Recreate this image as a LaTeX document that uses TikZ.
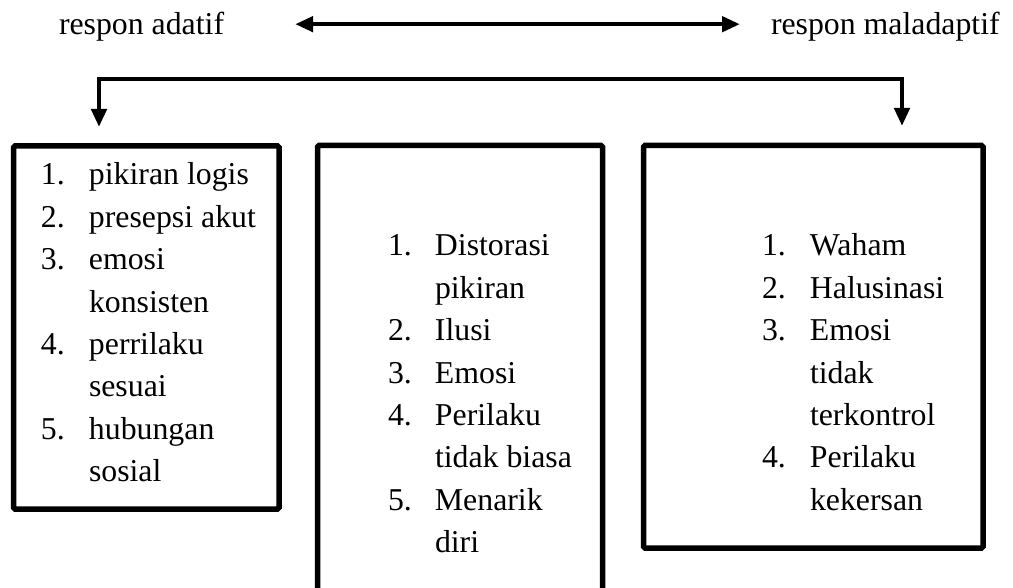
\documentclass[tikz,border=0pt]{standalone}
\usepackage{fontspec}
\setmainfont{Liberation Serif}
\usetikzlibrary{arrows.meta}
\begin{document}
\begin{tikzpicture}[x=1pt,y=-1pt,
  boxnode/.style={draw, line width=5.5pt, rectangle, rounded corners=1.5pt, inner sep=0pt, outer sep=0pt},
  txt/.style={inner sep=0pt, outer sep=0pt, font=\fontsize{31.8}{42.4}\selectfont, anchor=base west},
  dconn/.style={line width=4.6pt, {Triangle[length=18pt,width=15pt]}-{Triangle[length=18pt,width=15pt]}}
]
\useasboundingbox (0,0) rectangle (1013,588);
\fill[white] (0,0) rectangle (1013,588);

\node[txt] (adatif) at (59,35) {respon adatif};
\node[txt] (maladaptif) at (771,35) {respon maladaptif};
\draw[dconn] ([shift={(71,-3)}]adatif.east) -- ([shift={(-31,-3)}]maladaptif.west);

\node[boxnode, minimum width=265.5pt, minimum height=363pt] (lbox) at (146.25,327.5) {};
\node[boxnode, minimum width=285pt, minimum height=454.5pt] (mbox) at (460,372.75) {};
\node[boxnode, minimum width=339.5pt, minimum height=402.5pt] (rbox) at (813.25,346.75) {};

\coordinate (bl) at (99,79);
\coordinate (br) at (902,79);
\draw[dconn, shorten <=19pt, shorten >=19.5pt] (bl |- lbox.north) -- (bl) -- (br) -- (br |- rbox.north);

\node[txt] (llist) at (41,185) {\begin{tabular}[t]{@{}p{48pt}@{}l@{}}1. & pikiran logis\\ 2. & presepsi akut\\ 3. & emosi\\ & konsisten\\ 4. & perrilaku\\ & sesuai\\ 5. & hubungan\\ & sosial\end{tabular}};

\node[txt] (mlist) at (388,256) {\begin{tabular}[t]{@{}p{47pt}@{}l@{}}1. & Distorasi\\ & pikiran\\ 2. & Ilusi\\ 3. & Emosi\\ 4. & Perilaku\\ & tidak biasa\\ 5. & Menarik\\ & diri\end{tabular}};

\node[txt] (rlist) at (762,256) {\begin{tabular}[t]{@{}p{48pt}@{}l@{}}1. & Waham\\ 2. & Halusinasi\\ 3. & Emosi\\ & tidak\\ & terkontrol\\ 4. & Perilaku\\ & kekersan\end{tabular}};
\end{tikzpicture}
\end{document}
